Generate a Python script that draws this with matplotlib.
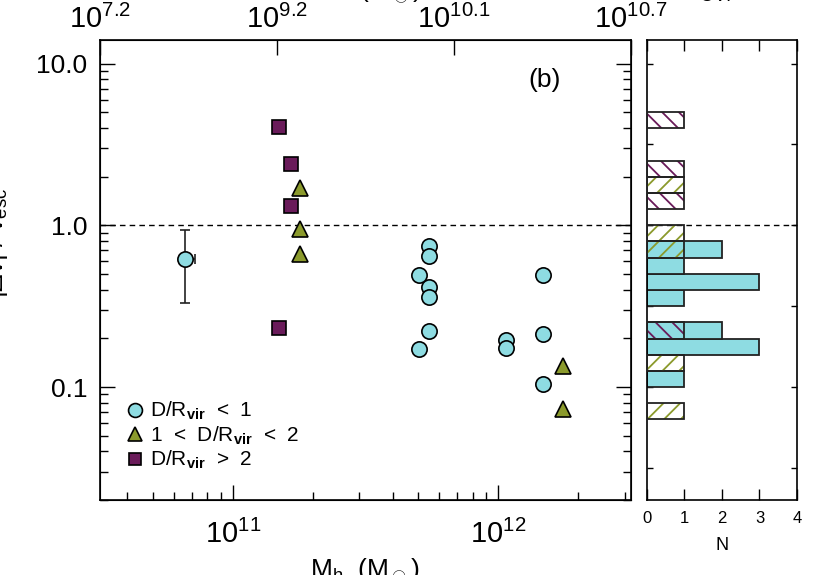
import numpy as np
import matplotlib
matplotlib.use('Agg')
from matplotlib import pyplot as plt
from matplotlib.lines import Line2D
from matplotlib.ticker import FixedLocator, NullFormatter, LogLocator

plt.rcParams['font.family'] = ['Liberation Sans Narrow', 'Liberation Sans', 'DejaVu Sans']
plt.rcParams['mathtext.fontset'] = 'custom'
plt.rcParams['mathtext.rm'] = 'Liberation Sans'
plt.rcParams['mathtext.it'] = 'Liberation Sans'
plt.rcParams['mathtext.bf'] = 'Liberation Sans:bold'
plt.rcParams['hatch.linewidth'] = 1.3

cyan = '#8edce2'
olive = '#8b9a2c'
purple = '#6a1b5a'

# halo mass (Msun) and v/v_esc for the three D/Rvir groups
mh_near = [6.6e10, 5.47e11, 5.47e11, 5.47e11, 5.47e11, 5.47e11,
           5.01e11, 5.01e11, 1.067e12, 1.067e12, 1.47e12, 1.47e12, 1.47e12]
v_near = [0.615, 0.741, 0.644, 0.414, 0.362, 0.223,
          0.491, 0.171, 0.196, 0.175, 0.491, 0.214, 0.104]
mh_mid = [1.79e11, 1.79e11, 1.79e11, 1.75e12, 1.75e12]
v_mid = [1.71, 0.944, 0.667, 0.135, 0.073]
mh_far = [1.49e11, 1.66e11, 1.66e11, 1.49e11]
v_far = [4.08, 2.38, 1.31, 0.233]

# error bar on the single stacked point
err_x = 6.6e10
err_y = 0.615
err_xlo = 0.0
err_xhi = 0.6e10
err_ylo = 0.282
err_yhi = 0.325

# top axis: stellar mass labels at halo mass positions (log)
top_logmh = [10.5, 11.1667, 11.8333, 12.5]
top_labels = ['$10^{7.2}$', '$10^{9.2}$', '$10^{10.1}$', '$10^{10.7}$']

bins = np.arange(-17, 12) / 10.0

fig = plt.figure(figsize=(8.3, 5.75), dpi=100)
ax = fig.add_axes([0.1205, 0.1304, 0.6398, 0.8])
axh = fig.add_axes([0.7795, 0.1304, 0.1807, 0.8])

ax.set_xscale('log')
ax.set_yscale('log')
ax.set_xlim(10 ** 10.5, 10 ** 12.5)
ax.set_ylim(0.02, 14)

ax.axhline(1.0, color='k', ls=(0, (4, 3)), lw=1.0, zorder=1)
ax.errorbar(err_x, err_y, xerr=[[err_xlo], [err_xhi]], yerr=[[err_ylo], [err_yhi]],
            fmt='none', ecolor='#222222', elinewidth=1.2, capsize=3.5,
            capthick=1.2, zorder=2)
ax.plot(mh_near, v_near, 'o', ms=11, mfc=cyan, mec='k', mew=1.2, ls='none', zorder=3)
ax.plot(mh_mid, v_mid, '^', ms=12, mfc=olive, mec='k', mew=1.2, ls='none', zorder=3)
ax.plot(mh_far, v_far, 's', ms=10.5, mfc=purple, mec='k', mew=1.2, ls='none', zorder=3)

ax.text(0.838, 0.913, '(b)', transform=ax.transAxes, fontsize=19,
        ha='center', va='center')

handles = [Line2D([], [], marker='o', ls='none', ms=10, mfc=cyan, mec='k', mew=1.2),
           Line2D([], [], marker='^', ls='none', ms=10, mfc=olive, mec='k', mew=1.2),
           Line2D([], [], marker='s', ls='none', ms=9, mfc=purple, mec='k', mew=1.2)]
labels = [r'D/R$_{\mathbf{vir}}$  <  1', r'1  <  D/R$_{\mathbf{vir}}$  <  2',
          r'D/R$_{\mathbf{vir}}$  >  2']
ax.legend(handles, labels, loc='lower left', bbox_to_anchor=(0.022, 0.04),
          frameon=False, fontsize=15, handletextpad=0.15, labelspacing=0.1,
          borderpad=0, handlelength=1.2)

ax.yaxis.set_major_locator(FixedLocator([0.1, 1.0, 10.0]))
ax.set_yticklabels(['0.1', '1.0', '10.0'])
ax.yaxis.set_minor_locator(LogLocator(base=10, subs=np.arange(2, 10)))
ax.yaxis.set_minor_formatter(NullFormatter())
ax.xaxis.set_major_locator(FixedLocator([1e11, 1e12]))
ax.set_xticklabels(['$10^{11}$', '$10^{12}$'])
ax.xaxis.set_minor_locator(LogLocator(base=10, subs=np.arange(2, 10)))
ax.xaxis.set_minor_formatter(NullFormatter())
ax.tick_params(which='both', direction='in', right=True, top=False,
               width=1.0, labelsize=19, pad=9)
ax.tick_params(axis='x', labelsize=21, pad=14)
ax.tick_params(which='major', length=11)
ax.tick_params(which='minor', length=6)
for s in ax.spines.values():
    s.set_linewidth(1.2)

axt = ax.twiny()
axt.set_xscale('log')
axt.set_xlim(ax.get_xlim())
axt.xaxis.set_major_locator(FixedLocator([10 ** m for m in top_logmh]))
axt.set_xticklabels(top_labels)
axt.xaxis.set_minor_locator(FixedLocator([]))
axt.tick_params(direction='in', length=11, width=1.0, labelsize=21, pad=4)

# axis titles, cut by the figure edge as in the original page crop
fig.text(365 / 830, 1 - 557 / 575, r'M$_{\rm h}$  (M$_\odot$)', fontsize=19,
         ha='center', va='top')
fig.text(365 / 830, 1 + 2 / 575, r'M$_*$  (M$_\odot$)', fontsize=19,
         ha='center', va='baseline')
fig.text(706 / 830, 1 + 2 / 575, r'N$_{\rm OVI}$', fontsize=19,
         ha='center', va='baseline')
fig.text(3 / 830, 1 - 188 / 575, r'|$\Delta$v| / v$_{\rm esc}$', fontsize=19,
         rotation=90, rotation_mode='anchor', ha='right', va='baseline')

# histogram panel
n_near, _ = np.histogram(np.log10(v_near), bins=bins)
n_mid, _ = np.histogram(np.log10(v_mid), bins=bins)
n_far, _ = np.histogram(np.log10(v_far), bins=bins)
lo = 10 ** bins[:-1]
hgt = 10 ** bins[1:] - 10 ** bins[:-1]

axh.set_yscale('log')
axh.set_ylim(ax.get_ylim())
axh.set_xlim(0, 4)
axh.axhline(1.0, color='k', ls=(0, (4, 3)), lw=1.0, zorder=1)
keep = n_near > 0
axh.barh(lo[keep], n_near[keep], height=hgt[keep], left=0, align='edge',
         color=cyan, edgecolor='#222222', lw=1.3, zorder=2)
keep = n_mid > 0
axh.barh(lo[keep], n_mid[keep], height=hgt[keep], left=0, align='edge',
         facecolor='none', edgecolor=olive, hatch='//', lw=0, zorder=3)
axh.barh(lo[keep], n_mid[keep], height=hgt[keep], left=0, align='edge',
         facecolor='none', edgecolor='#222222', lw=1.3, zorder=4)
keep = n_far > 0
axh.barh(lo[keep], n_far[keep], height=hgt[keep], left=0, align='edge',
         facecolor='none', edgecolor=purple, hatch='\\\\', lw=0, zorder=3)
axh.barh(lo[keep], n_far[keep], height=hgt[keep], left=0, align='edge',
         facecolor='none', edgecolor='#222222', lw=1.3, zorder=4)

axh.xaxis.set_major_locator(FixedLocator([0, 1, 2, 3, 4]))
axh.yaxis.set_major_locator(FixedLocator(10 ** np.arange(-1.5, 1.01, 0.5)))
axh.yaxis.set_minor_locator(FixedLocator([]))
axh.yaxis.set_major_formatter(NullFormatter())
axh.tick_params(direction='in', top=True, right=True, length=8, width=1.0,
                labelsize=12, pad=8)
axh.tick_params(axis='y', length=4)
axh.set_xlabel('N', fontsize=13, labelpad=8)
for s in axh.spines.values():
    s.set_linewidth(1.2)

fig.savefig('out.png', dpi=100)
